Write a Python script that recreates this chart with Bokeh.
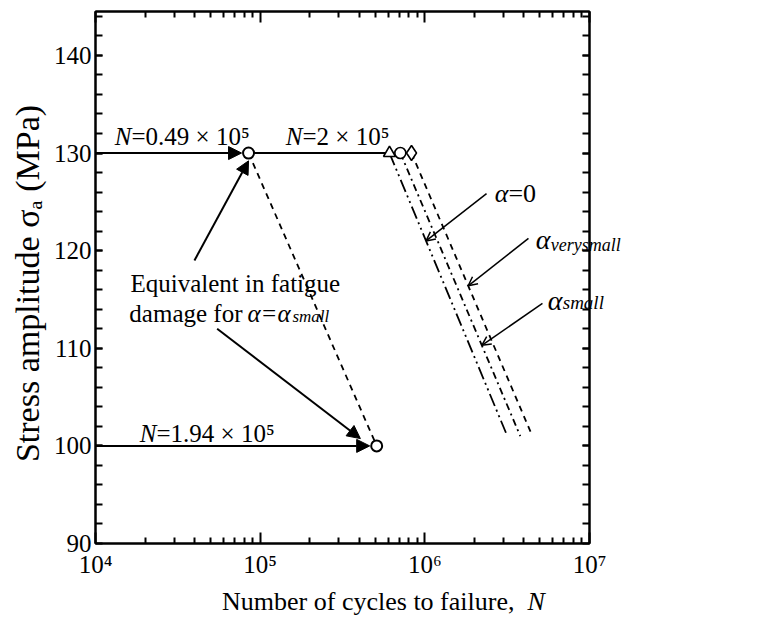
import math
from bokeh.plotting import figure
from bokeh.models import (Range1d, LogAxis, LinearAxis, FixedTicker, CustomJSTickFormatter,
                          Arrow, NormalHead, OpenHead, Label)
from bokeh.embed import file_html
from bokeh.resources import INLINE

# ---------------- data ----------------
SIGMA_HIGH = 130.0          # MPa, first block
SIGMA_LOW = 100.0           # MPa, second block
N_EQUIV_HIGH = 8.5e4        # open circle at 130 MPa (first block end)
N_EQUIV_LOW = 5.1e5         # open circle at 100 MPa
# S-N lines: marker at 130 MPa, line end at ~101 MPa
CURVE_LABELS = ["alpha=0", "alpha_small", "alpha_verysmall"]
CURVE_MARKERS = ["triangle", "circle", "diamond"]
CURVE_N_TOP = [6.1e5, 7.1e5, 8.3e5]
CURVE_N_BOTTOM = [3.17e6, 3.8e6, 4.5e6]
CURVE_S_BOTTOM = 101.0

X_TICKS = [1e4, 1e5, 1e6, 1e7]
X_TICK_LABELS = ["10\u2074", "10\u2075", "10\u2076", "10\u2077"]
X_MINOR = [m * 10 ** e for e in (4, 5, 6) for m in range(2, 10)]
Y_TICKS = [90, 100, 110, 120, 130, 140]
Y_TICK_LABELS = ["90", "100", "110", "120", "130", "140"]
Y_MINOR = list(range(92, 146, 2))

SERIF = "Liberation Serif"

p = figure(width=756, height=618, x_axis_type="log",
           x_range=Range1d(1e4, 1e7), y_range=Range1d(90, 144.5),
           output_backend="svg", toolbar_location=None,
           min_border_left=95, min_border_right=167, min_border_top=11, min_border_bottom=75)
p.xgrid.visible = False
p.ygrid.visible = False
p.outline_line_color = "black"
p.outline_line_width = 2
p.background_fill_color = "white"
p.border_fill_color = "white"

xfmt = CustomJSTickFormatter(args=dict(tks=X_TICKS, lbls=X_TICK_LABELS), code="""
    for (let i = 0; i < tks.length; i++) {
        if (Math.abs(Math.log10(tick) - Math.log10(tks[i])) < 1e-6) return lbls[i];
    }
    return '';
""")
yfmt = CustomJSTickFormatter(args=dict(tks=Y_TICKS, lbls=Y_TICK_LABELS), code="""
    for (let i = 0; i < tks.length; i++) {
        if (Math.abs(tick - tks[i]) < 1e-6) return lbls[i];
    }
    return '';
""")
blank = CustomJSTickFormatter(code="return '';")


def style_axis(ax, ticker, fmt, tin, tmin, labels=True):
    ax.ticker = ticker
    ax.formatter = fmt
    ax.axis_line_width = 2
    ax.axis_line_color = "black"
    ax.major_tick_in = tin
    ax.major_tick_out = 0
    ax.minor_tick_in = tmin
    ax.minor_tick_out = 0
    ax.major_tick_line_width = 2
    ax.minor_tick_line_width = 2
    ax.major_tick_line_color = "black"
    ax.minor_tick_line_color = "black"
    ax.major_label_text_font = SERIF
    ax.major_label_text_font_size = "25px" if labels else "1px"
    ax.major_label_text_color = "black"
    if not labels:
        ax.major_label_standoff = 0


style_axis(p.xaxis[0], FixedTicker(ticks=X_TICKS, minor_ticks=X_MINOR), xfmt, 11, 6)
p.xaxis[0].major_label_standoff = 7
style_axis(p.yaxis[0], FixedTicker(ticks=Y_TICKS, minor_ticks=Y_MINOR), yfmt, 7, 7)
p.yaxis[0].major_label_standoff = 4

top = LogAxis()
style_axis(top, FixedTicker(ticks=X_TICKS, minor_ticks=X_MINOR), blank, 11, 6, labels=False)
p.add_layout(top, "above")
right = LinearAxis()
style_axis(right, FixedTicker(ticks=Y_TICKS, minor_ticks=Y_MINOR), blank, 7, 7, labels=False)
p.add_layout(right, "right")

# ---------------- marks ----------------
GAP = 10 ** (7 / 164.7)   # marker radius in log-decades (visual gap for arrow tips)

# horizontal loading lines with arrow heads
p.add_layout(Arrow(end=NormalHead(size=13, fill_color="black", line_color="black"),
                   x_start=X_TICKS[0], y_start=SIGMA_HIGH, x_end=N_EQUIV_HIGH / GAP, y_end=SIGMA_HIGH,
                   line_width=2, line_color="black"))
p.line([N_EQUIV_HIGH, CURVE_N_TOP[0]], [SIGMA_HIGH, SIGMA_HIGH], line_width=2, line_color="black")
p.add_layout(Arrow(end=NormalHead(size=13, fill_color="black", line_color="black"),
                   x_start=X_TICKS[0], y_start=SIGMA_LOW, x_end=N_EQUIV_LOW / GAP, y_end=SIGMA_LOW,
                   line_width=2, line_color="black"))

# equivalence dashed line
p.line([N_EQUIV_HIGH, N_EQUIV_LOW], [SIGMA_HIGH, SIGMA_LOW], line_width=1.8,
       line_color="black", line_dash="6 5")

# S-N lines
DASHES = ["13 4 2 4 2 4", "7 4 2 4", "6 5"]
for nt, nb, dash in zip(CURVE_N_TOP, CURVE_N_BOTTOM, DASHES):
    p.line([nt, nb], [SIGMA_HIGH, CURVE_S_BOTTOM], line_width=1.8, line_color="black", line_dash=dash)

SIZES = {"triangle": 12, "circle": 11, "diamond": 15}
for nt, mk in zip(CURVE_N_TOP, CURVE_MARKERS):
    p.scatter([nt], [SIGMA_HIGH], marker=mk, size=SIZES[mk], fill_color="white",
              line_color="black", line_width=1.6)
p.scatter([N_EQUIV_HIGH, N_EQUIV_LOW], [SIGMA_HIGH, SIGMA_LOW], marker="circle", size=11,
          fill_color="white", line_color="black", line_width=2)


def on_curve(i, s):
    """N on S-N line i at stress s (log-linear interpolation)."""
    t = (SIGMA_HIGH - s) / (SIGMA_HIGH - CURVE_S_BOTTOM)
    lg = math.log10(CURVE_N_TOP[i]) + t * (math.log10(CURVE_N_BOTTOM[i]) - math.log10(CURVE_N_TOP[i]))
    return 10 ** lg


# annotation arrows (filled heads)
p.add_layout(Arrow(end=NormalHead(size=13, fill_color="black", line_color="black"),
                   x_start=3.99e4, y_start=119.0, x_end=N_EQUIV_HIGH, y_end=129.2,
                   line_width=2, line_color="black"))
p.add_layout(Arrow(end=NormalHead(size=13, fill_color="black", line_color="black"),
                   x_start=5.48e4, y_start=112.0, x_end=4.06e5, y_end=100.75,
                   line_width=2, line_color="black"))

# alpha arrows (open heads)
for (xs, ys, ci, sy) in [(2.37e6, 125.85, 0, 121.0), (4.26e6, 121.25, 2, 116.4), (5.18e6, 114.6, 1, 110.3)]:
    p.add_layout(Arrow(end=OpenHead(size=9, line_width=1.5, line_color="black"),
                       x_start=xs, y_start=ys, x_end=on_curve(ci, sy), y_end=sy,
                       line_width=1.5, line_color="black"))


def lab(x, y, text, size, italic=False, align="left", angle=0.0, side="center", baseline="alphabetic"):
    # labels placed in a side panel are not clipped to the plot frame
    lbl = Label(x=x, y=y, text=text, text_font=SERIF, text_font_size=f"{size}px",
                text_font_style="italic" if italic else "normal", text_align=align,
                text_baseline=baseline, text_color="black", angle=angle)
    p.add_layout(lbl, side)


# N labels
for (x, y, rest) in [(1.654e4, 131.7, "=0.49 \u00d7 10\u2075"), (1.806e5, 131.7, "=2 \u00d7 10\u2075"),
                     (2.346e4, 101.25, "=1.94 \u00d7 10\u2075")]:
    lab(x, y, "N", 25, italic=True, align="right")
    lab(x, y, rest, 25)

lab(1.631e4, 116.63, "Equivalent in fatigue", 25)
lab(7.81e4, 113.55, "damage for", 25, align="right")
lab(8.37e4, 113.55, "\u03b1=\u03b1", 25, italic=True)
lab(1.571e5, 113.24, "small", 17, italic=True)

# alpha labels (subscripts crossing the frame edge sit in the right side panel)
lab(3.22e6, 125.85, "\u03b1", 26, italic=True, align="right")
lab(3.22e6, 125.85, "=0", 26)
lab(5.79e6, 121.14, "\u03b1", 28, italic=True, align="right")
lab(5.82e6, 120.6, "verysmall", 18, italic=True, side="right")
lab(6.85e6, 114.88, "\u03b1", 28, italic=True, align="right")
lab(6.88e6, 114.67, "small", 19, italic=True, side="right")

# axis titles
lab(4.2e6, 84.1, "Number of  cycles to failure, ", 26, align="right", side="below", baseline="middle")
lab(4.2e6, 84.1, "N", 26, italic=True, side="right", baseline="middle")
lab(3865, 116.64, "Stress amplitude \u03c3\u2090 (MPa)", 34, align="center",
    angle=math.pi / 2, side="left", baseline="middle")

open("out.html", "w").write(file_html(p, INLINE))
